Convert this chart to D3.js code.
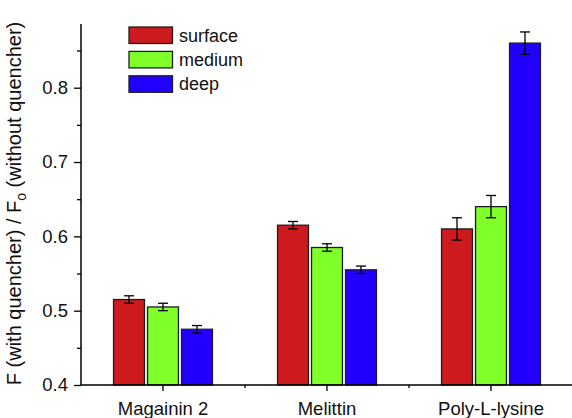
<!DOCTYPE html>
<html>
<head>
<meta charset="utf-8">
<script src="https://cdn.jsdelivr.net/npm/d3@7"></script>
<style>
  html, body { margin: 0; padding: 0; background: #fff; }
  svg { display: block; font-family: "Liberation Sans", Arial, Helvetica, sans-serif; }
</style>
</head>
<body>
<svg id="chart" width="572" height="418"></svg>
<script>
// Peptides (x categories) and quencher depths (series)
const categories = ["Magainin 2", "Melittin", "Poly-L-lysine"];
const series = ["surface", "medium", "deep"];
const seriesColors = ["#cc1a1e", "#80ff2b", "#2200ff"];

// F / Fo per peptide, one array per depth, with error half-widths
const surfaceValues = [0.515, 0.615, 0.61];
const mediumValues  = [0.505, 0.585, 0.64];
const deepValues    = [0.475, 0.555, 0.86];
const surfaceErrors = [0.005, 0.005, 0.015];
const mediumErrors  = [0.005, 0.005, 0.015];
const deepErrors    = [0.005, 0.005, 0.015];

const yTicks = [0.4, 0.5, 0.6, 0.7, 0.8];
const yMinorTicks = [0.45, 0.55, 0.65, 0.75, 0.85];

const valuesBySeries = [surfaceValues, mediumValues, deepValues];
const errorsBySeries = [surfaceErrors, mediumErrors, deepErrors];

const rows = [];
categories.forEach((c, ci) => {
  series.forEach((s, si) => {
    rows.push({ category: c, series: s, value: valuesBySeries[si][ci], err: errorsBySeries[si][ci], color: seriesColors[si] });
  });
});

const svg = d3.select("#chart");
const plotLeft = 81, plotRight = 573, plotTop = 24, plotBottom = 385;

const x = d3.scaleBand().domain(categories).range([plotLeft, plotRight]).padding(0);
const groupWidth = 102;
const xSub = d3.scaleBand().domain(series)
  .range([-groupWidth / 2, groupWidth / 2])
  .paddingInner(0.09).paddingOuter(0.045);
const y = d3.scaleLinear().domain([0.4, 0.8857]).range([plotBottom, plotTop]);

// Bars
const g = svg.append("g");
g.selectAll("rect.bar").data(rows).join("rect")
  .attr("class", "bar")
  .attr("x", d => x(d.category) + x.bandwidth() / 2 + xSub(d.series))
  .attr("y", d => y(d.value))
  .attr("width", xSub.bandwidth())
  .attr("height", d => y(0.4) - y(d.value))
  .attr("fill", d => d.color)
  .attr("stroke", "#1e1e1e")
  .attr("stroke-width", 1.3);

// Error bars
const cap = 5;
const eb = g.selectAll("g.err").data(rows).join("g").attr("class", "err")
  .attr("stroke", "#000").attr("stroke-width", 1.3);
const cx = d => x(d.category) + x.bandwidth() / 2 + xSub(d.series) + xSub.bandwidth() / 2;
eb.append("line").attr("x1", cx).attr("x2", cx)
  .attr("y1", d => y(d.value + d.err)).attr("y2", d => y(d.value - d.err));
eb.append("line").attr("x1", d => cx(d) - cap).attr("x2", d => cx(d) + cap)
  .attr("y1", d => y(d.value + d.err)).attr("y2", d => y(d.value + d.err));
eb.append("line").attr("x1", d => cx(d) - cap).attr("x2", d => cx(d) + cap)
  .attr("y1", d => y(d.value - d.err)).attr("y2", d => y(d.value - d.err));

// Y axis
const yAxis = svg.append("g").attr("transform", `translate(${plotLeft},0)`)
  .call(d3.axisLeft(y).tickValues(yTicks).tickFormat(d3.format(".1f")).tickSize(7).tickPadding(6));
yAxis.select(".domain").attr("d", `M0,${y(0.4)}V${plotTop}`).attr("stroke-width", 1.5);
yAxis.selectAll(".tick line").attr("stroke-width", 1.3);
yAxis.selectAll(".tick text").attr("font-size", 18.5).attr("fill", "#111");
svg.append("g").attr("transform", `translate(${plotLeft},0)`)
  .call(d3.axisLeft(y).tickValues(yMinorTicks).tickFormat("").tickSize(4))
  .call(a => a.select(".domain").remove())
  .selectAll(".tick line").attr("stroke-width", 1.3);

// X axis
const xAxis = svg.append("g").attr("transform", `translate(0,${plotBottom})`)
  .call(d3.axisBottom(x).tickSize(6).tickPadding(11));
xAxis.select(".domain").attr("d", `M${plotLeft},0H${plotRight}`).attr("stroke-width", 1.5);
xAxis.selectAll(".tick line").attr("stroke-width", 1.3);
xAxis.selectAll(".tick text").attr("font-size", 18.5).attr("fill", "#111");
// minor ticks between categories
const between = categories.slice(1).map(c => x(c));
svg.append("g").selectAll("line").data(between).join("line")
  .attr("x1", d => d).attr("x2", d => d)
  .attr("y1", plotBottom).attr("y2", plotBottom + 3)
  .attr("stroke", "#000").attr("stroke-width", 1.3);

// Y axis title
const title = svg.append("text")
  .attr("transform", "translate(21,203.5) rotate(-90)")
  .attr("text-anchor", "middle")
  .attr("font-size", 20)
  .attr("fill", "#111");
title.append("tspan").text("F (with quencher) / F");
title.append("tspan").attr("font-size", 14).attr("dy", 5).text("o");
title.append("tspan").attr("dy", -5).text(" (without quencher)");

// Legend
const legend = svg.append("g").attr("transform", "translate(129,27)");
const li = legend.selectAll("g").data(series).join("g")
  .attr("transform", (d, i) => `translate(0,${i * 24.4})`);
li.append("rect").attr("width", 43.5).attr("height", 16.5)
  .attr("fill", (d, i) => seriesColors[i])
  .attr("stroke", "#1e1e1e").attr("stroke-width", 1.3);
li.append("text").attr("x", 50).attr("y", 14.5)
  .attr("font-size", 18).attr("fill", "#111").text(d => d);
</script>
</body>
</html>
